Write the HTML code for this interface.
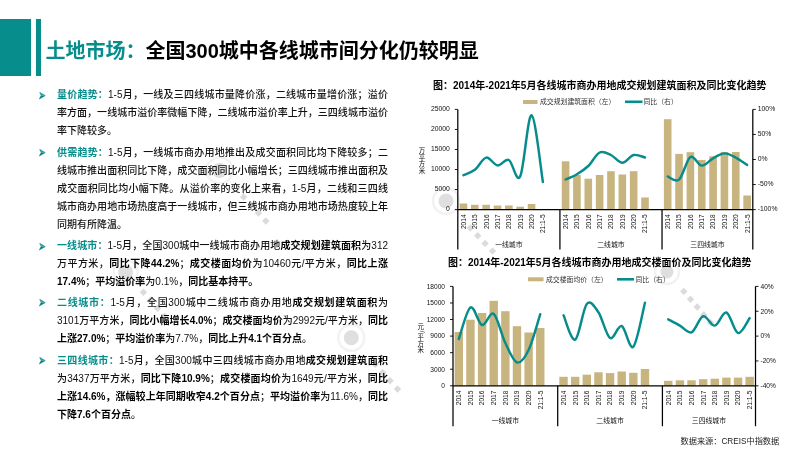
<!DOCTYPE html>
<html><head><meta charset="utf-8"><style>
html,body{margin:0;padding:0;background:#fff;}
body{width:800px;height:450px;position:relative;overflow:hidden;font-family:"Liberation Sans","Noto Sans CJK SC",sans-serif;}
.blk{position:absolute;left:0;top:19px;width:31px;height:57px;background:#078d8c;}
.bar{position:absolute;left:36px;top:19px;width:5px;height:57px;background:#078d8c;}
.title{position:absolute;left:45.5px;top:37px;font-size:20px;line-height:28px;font-weight:bold;color:#000;white-space:nowrap;font-family:"Liberation Sans","Noto Sans CJK SC",sans-serif;}
.title .t{color:#078d8c;}
.p{position:absolute;left:57px;width:331px;font-size:10px;line-height:18px;color:#111;font-weight:500;}
.ln{white-space:nowrap;text-align:justify;text-align-last:justify;height:18px;}
.ln.last{text-align-last:left;}
.hd{color:#078d8c;font-weight:bold;}
b{font-weight:bold;color:#000;}
.bul{position:absolute;left:-18.3px;top:5.3px;}
.ch{position:absolute;left:0;top:0;}
.wm{position:absolute;left:0;top:0;}
.ch text{font-family:"Liberation Sans","Noto Sans CJK SC",sans-serif;}
.ct{font-size:10px;font-weight:bold;fill:#000;}
.lg{font-size:6.85px;fill:#333;}
.ax{font-size:6.6px;fill:#111;}
.ay1{font-size:6.8px;fill:#111;}
.ay2{font-size:6.6px;fill:#111;}
.gn{font-size:6.85px;fill:#111;}
.yt{font-size:6.5px;fill:#111;}
.src{font-size:8.2px;fill:#222;}
</style></head><body>
<svg class="wm" width="800" height="450" viewBox="0 0 800 450"><circle cx="219.6" cy="170.4" r="13" fill="none" stroke="#ececec" stroke-width="2.5" opacity="0.7"/><circle cx="219.6" cy="170.4" r="7.5" fill="#d2d2d2" opacity="0.7"/><rect x="241" y="194.4" width="5.2" height="5.2" fill="#cfcfcf" opacity="0.75" transform="rotate(45 243.6 197)"/><rect x="248.4" y="202.4" width="5.2" height="5.2" fill="#cfcfcf" opacity="0.75" transform="rotate(45 251 205)"/><rect x="255.8" y="210.4" width="5.2" height="5.2" fill="#cfcfcf" opacity="0.75" transform="rotate(45 258.4 213)"/><rect x="263.2" y="218.4" width="5.2" height="5.2" fill="#cfcfcf" opacity="0.75" transform="rotate(45 265.8 221)"/><circle cx="446" cy="201" r="13" fill="none" stroke="#ececec" stroke-width="2.5" opacity="0.7"/><circle cx="446" cy="201" r="7.5" fill="#d2d2d2" opacity="0.7"/><rect x="467.7" y="225.4" width="5.2" height="5.2" fill="#cfcfcf" opacity="0.75" transform="rotate(45 470.3 228)"/><rect x="475.1" y="233.1" width="5.2" height="5.2" fill="#cfcfcf" opacity="0.75" transform="rotate(45 477.7 235.7)"/><rect x="482.5" y="240.8" width="5.2" height="5.2" fill="#cfcfcf" opacity="0.75" transform="rotate(45 485.1 243.4)"/><rect x="489.9" y="248.5" width="5.2" height="5.2" fill="#cfcfcf" opacity="0.75" transform="rotate(45 492.5 251.1)"/><circle cx="351.3" cy="337.8" r="13" fill="none" stroke="#ececec" stroke-width="2.5" opacity="0.7"/><circle cx="351.3" cy="337.8" r="7.5" fill="#d2d2d2" opacity="0.7"/><rect x="372.7" y="361.8" width="5.2" height="5.2" fill="#cfcfcf" opacity="0.75" transform="rotate(45 375.3 364.4)"/><rect x="380.1" y="370" width="5.2" height="5.2" fill="#cfcfcf" opacity="0.75" transform="rotate(45 382.7 372.6)"/><rect x="387.5" y="378.2" width="5.2" height="5.2" fill="#cfcfcf" opacity="0.75" transform="rotate(45 390.1 380.8)"/><rect x="394.9" y="386.4" width="5.2" height="5.2" fill="#cfcfcf" opacity="0.75" transform="rotate(45 397.5 389)"/><circle cx="125.6" cy="272.1" r="12" fill="none" stroke="#ececec" stroke-width="2.5" opacity="0.7"/><circle cx="125.6" cy="272.1" r="7.5" fill="#d2d2d2" opacity="0.7"/><rect x="140.8" y="289.7" width="5.2" height="5.2" fill="#cfcfcf" opacity="0.75" transform="rotate(45 143.4 292.3)"/><rect x="147.8" y="297.7" width="5.2" height="5.2" fill="#cfcfcf" opacity="0.75" transform="rotate(45 150.4 300.3)"/><rect x="154.8" y="305.7" width="5.2" height="5.2" fill="#cfcfcf" opacity="0.75" transform="rotate(45 157.4 308.3)"/><rect x="161.8" y="313.7" width="5.2" height="5.2" fill="#cfcfcf" opacity="0.75" transform="rotate(45 164.4 316.3)"/><circle cx="667" cy="272" r="12" fill="none" stroke="#ececec" stroke-width="2.5" opacity="0.7"/><circle cx="667" cy="272" r="6.5" fill="#d2d2d2" opacity="0.7"/><rect x="681.2" y="288.8" width="5.2" height="5.2" fill="#cfcfcf" opacity="0.75" transform="rotate(45 683.8 291.4)"/><rect x="687.9" y="296.6" width="5.2" height="5.2" fill="#cfcfcf" opacity="0.75" transform="rotate(45 690.5 299.2)"/><rect x="694.6" y="304.4" width="5.2" height="5.2" fill="#cfcfcf" opacity="0.75" transform="rotate(45 697.2 307)"/><rect x="701.3" y="312.2" width="5.2" height="5.2" fill="#cfcfcf" opacity="0.75" transform="rotate(45 703.9 314.8)"/><rect x="708" y="320" width="5.2" height="5.2" fill="#cfcfcf" opacity="0.75" transform="rotate(45 710.6 322.6)"/></svg>
<div class="blk"></div><div class="bar"></div>
<div class="title"><span class="t">土地市场：</span>全国300城中各线城市间分化仍较明显</div>
<div class="p" style="top:86.3px"><svg class="bul" width="8" height="8" viewBox="0 0 8 8"><path d="M0.7,0.3 L6.1,3.4 L2.1,3.6 Z" fill="#2fa9a8"/><path d="M2.1,3.6 L6.1,3.4 L6.2,3.7 L0.3,7.1 Z" fill="#07807f"/><path d="M0.7,0.3 L6.1,3.4 L6.2,3.7 L0.3,7.1 L2.1,3.6 Z" fill="none" stroke="#0a8584" stroke-width="0.5"/></svg><div class="ln"><span class="hd">量价趋势：</span>1-5月，一线及三四线城市量降价涨，二线城市量增价涨；溢价</div><div class="ln">率方面，一线城市溢价率微幅下降，二线城市溢价率上升，三四线城市溢价</div><div class="ln last">率下降较多。</div></div><div class="p" style="top:143.8px"><svg class="bul" width="8" height="8" viewBox="0 0 8 8"><path d="M0.7,0.3 L6.1,3.4 L2.1,3.6 Z" fill="#2fa9a8"/><path d="M2.1,3.6 L6.1,3.4 L6.2,3.7 L0.3,7.1 Z" fill="#07807f"/><path d="M0.7,0.3 L6.1,3.4 L6.2,3.7 L0.3,7.1 L2.1,3.6 Z" fill="none" stroke="#0a8584" stroke-width="0.5"/></svg><div class="ln"><span class="hd">供需趋势：</span>1-5月，一线城市商办用地推出及成交面积同比均下降较多；二</div><div class="ln">线城市推出面积同比下降，成交面积同比小幅增长；三四线城市推出面积及</div><div class="ln">成交面积同比均小幅下降。从溢价率的变化上来看，1-5月，二线和三四线</div><div class="ln">城市商办用地市场热度高于一线城市，但三线城市商办用地市场热度较上年</div><div class="ln last">同期有所降温。</div></div><div class="p" style="top:237.3px"><svg class="bul" width="8" height="8" viewBox="0 0 8 8"><path d="M0.7,0.3 L6.1,3.4 L2.1,3.6 Z" fill="#2fa9a8"/><path d="M2.1,3.6 L6.1,3.4 L6.2,3.7 L0.3,7.1 Z" fill="#07807f"/><path d="M0.7,0.3 L6.1,3.4 L6.2,3.7 L0.3,7.1 L2.1,3.6 Z" fill="none" stroke="#0a8584" stroke-width="0.5"/></svg><div class="ln"><span class="hd">一线城市：</span>1-5月，全国300城中一线城市商办用地<b>成交规划建筑面积</b>为312</div><div class="ln">万平方米，<b>同比下降44.2%</b>；<b>成交楼面均价</b>为10460元/平方米，<b>同比上涨</b></div><div class="ln last"><b>17.4%</b>；<b>平均溢价率</b>为0.1%，<b>同比基本持平。</b></div></div><div class="p" style="top:293.8px"><svg class="bul" width="8" height="8" viewBox="0 0 8 8"><path d="M0.7,0.3 L6.1,3.4 L2.1,3.6 Z" fill="#2fa9a8"/><path d="M2.1,3.6 L6.1,3.4 L6.2,3.7 L0.3,7.1 Z" fill="#07807f"/><path d="M0.7,0.3 L6.1,3.4 L6.2,3.7 L0.3,7.1 L2.1,3.6 Z" fill="none" stroke="#0a8584" stroke-width="0.5"/></svg><div class="ln"><span class="hd">二线城市：</span>1-5月，全国300城中二线城市商办用地<b>成交规划建筑面积</b>为</div><div class="ln">3101万平方米，<b>同比小幅增长4.0%</b>；<b>成交楼面均价</b>为2992元/平方米，<b>同比</b></div><div class="ln last"><b>上涨27.0%</b>；<b>平均溢价率</b>为7.7%，<b>同比上升4.1个百分点</b>。</div></div><div class="p" style="top:351.8px"><svg class="bul" width="8" height="8" viewBox="0 0 8 8"><path d="M0.7,0.3 L6.1,3.4 L2.1,3.6 Z" fill="#2fa9a8"/><path d="M2.1,3.6 L6.1,3.4 L6.2,3.7 L0.3,7.1 Z" fill="#07807f"/><path d="M0.7,0.3 L6.1,3.4 L6.2,3.7 L0.3,7.1 L2.1,3.6 Z" fill="none" stroke="#0a8584" stroke-width="0.5"/></svg><div class="ln"><span class="hd">三四线城市：</span>1-5月，全国300城中三四线城市商办用地<b>成交规划建筑面积</b></div><div class="ln">为3437万平方米，<b>同比下降10.9%</b>；<b>成交楼面均价</b>为1649元/平方米，<b>同比</b></div><div class="ln"><b>上涨14.6%，涨幅较上年同期收窄4.2个百分点</b>；<b>平均溢价率</b>为11.6%，<b>同比</b></div><div class="ln last"><b>下降7.6个百分点</b>。</div></div>
<svg class="ch" width="800" height="450" viewBox="0 0 800 450">
<text x="433" y="89" class="ct">图：2014年-2021年5月各线城市商办用地成交规划建筑面积及同比变化趋势</text>
<rect x="523" y="100" width="14.5" height="4" fill="#c7b47f"/>
<text x="540" y="104.3" class="lg">成交规划建筑面积（左）</text>
<line x1="625" y1="101.8" x2="642.5" y2="101.8" stroke="#068c8b" stroke-width="2.6"/>
<text x="643.5" y="104.3" class="lg">同比（右）</text>
<text x="422" y="153.23" text-anchor="middle" class="yt">万</text><text x="422" y="159.78" text-anchor="middle" class="yt">平</text><text x="422" y="166.33" text-anchor="middle" class="yt">方</text><text x="422" y="172.88" text-anchor="middle" class="yt">米</text>
<rect x="459.67" y="203.5" width="7.6" height="6.1" fill="#c7b47f"/>
<rect x="471.02" y="204.8" width="7.6" height="4.8" fill="#c7b47f"/>
<rect x="482.37" y="204.8" width="7.6" height="4.8" fill="#c7b47f"/>
<rect x="493.71" y="205.5" width="7.6" height="4.1" fill="#c7b47f"/>
<rect x="505.06" y="205.5" width="7.6" height="4.1" fill="#c7b47f"/>
<rect x="516.4" y="206.7" width="7.6" height="2.9" fill="#c7b47f"/>
<rect x="527.75" y="204" width="7.6" height="5.6" fill="#c7b47f"/>
<rect x="539.1" y="209" width="7.6" height="0.6" fill="#c7b47f"/>
<rect x="561.79" y="161.3" width="7.6" height="48.3" fill="#c7b47f"/>
<rect x="573.13" y="175" width="7.6" height="34.6" fill="#c7b47f"/>
<rect x="584.48" y="178.7" width="7.6" height="30.9" fill="#c7b47f"/>
<rect x="595.83" y="175" width="7.6" height="34.6" fill="#c7b47f"/>
<rect x="607.17" y="171.2" width="7.6" height="38.4" fill="#c7b47f"/>
<rect x="618.52" y="174.5" width="7.6" height="35.1" fill="#c7b47f"/>
<rect x="629.87" y="171.2" width="7.6" height="38.4" fill="#c7b47f"/>
<rect x="641.21" y="197.5" width="7.6" height="12.1" fill="#c7b47f"/>
<rect x="663.9" y="119.2" width="7.6" height="90.4" fill="#c7b47f"/>
<rect x="675.25" y="153.9" width="7.6" height="55.7" fill="#c7b47f"/>
<rect x="686.6" y="152.2" width="7.6" height="57.4" fill="#c7b47f"/>
<rect x="697.94" y="160" width="7.6" height="49.6" fill="#c7b47f"/>
<rect x="709.29" y="156.3" width="7.6" height="53.3" fill="#c7b47f"/>
<rect x="720.63" y="152" width="7.6" height="57.6" fill="#c7b47f"/>
<rect x="731.98" y="152" width="7.6" height="57.6" fill="#c7b47f"/>
<rect x="743.33" y="195.5" width="7.6" height="14.1" fill="#c7b47f"/>
<path d="M463.47,175.2 C465.36,174.3 471.04,172.73 474.82,169.8 C478.6,166.87 482.38,158.33 486.17,157.6 C489.95,156.87 493.73,165 497.51,165.4 C501.29,165.8 505.08,158.17 508.86,160 C512.64,161.83 516.42,183.85 520.2,176.4 C523.99,168.95 527.77,114.37 531.55,115.3 C535.33,116.23 541.01,170.88 542.9,182" fill="none" stroke="#068c8b" stroke-width="2.45" stroke-linecap="round" stroke-linejoin="round"/>
<path d="M565.59,179.5 C567.48,178.62 573.15,176.45 576.93,174.2 C580.72,171.95 584.5,169.62 588.28,166 C592.06,162.38 595.84,154.33 599.63,152.5 C603.41,150.67 607.19,153.28 610.97,155 C614.76,156.72 618.54,162.8 622.32,162.8 C626.1,162.8 629.88,155.88 633.67,155 C637.45,154.12 643.12,157.08 645.01,157.5" fill="none" stroke="#068c8b" stroke-width="2.45" stroke-linecap="round" stroke-linejoin="round"/>
<path d="M667.7,176.4 C669.59,176.93 675.27,182.83 679.05,179.6 C682.83,176.37 686.61,159.33 690.4,157 C694.18,154.67 697.96,165.38 701.74,165.6 C705.52,165.82 709.31,160.33 713.09,158.3 C716.87,156.27 720.65,153.52 724.43,153.4 C728.22,153.28 732,155.68 735.78,157.6 C739.56,159.52 745.24,163.68 747.13,164.9" fill="none" stroke="#068c8b" stroke-width="2.45" stroke-linecap="round" stroke-linejoin="round"/>
<line x1="457.8" y1="109.4" x2="457.8" y2="249.5" stroke="#000" stroke-width="1.25"/>
<line x1="752.8" y1="109.4" x2="752.8" y2="249.5" stroke="#000" stroke-width="1.25"/>
<line x1="457.8" y1="209.6" x2="752.8" y2="209.6" stroke="#000" stroke-width="1.25"/>
<line x1="559.92" y1="209.6" x2="559.92" y2="249.5" stroke="#000" stroke-width="1.25"/>
<line x1="662.03" y1="209.6" x2="662.03" y2="249.5" stroke="#000" stroke-width="1.25"/>
<line x1="454.8" y1="209.6" x2="457.8" y2="209.6" stroke="#000" stroke-width="0.9"/>
<text x="449.8" y="211" text-anchor="end" class="ay1">0</text>
<line x1="454.8" y1="189.56" x2="457.8" y2="189.56" stroke="#000" stroke-width="0.9"/>
<text x="449.8" y="190.96" text-anchor="end" class="ay1">5000</text>
<line x1="454.8" y1="169.52" x2="457.8" y2="169.52" stroke="#000" stroke-width="0.9"/>
<text x="449.8" y="170.92" text-anchor="end" class="ay1">10000</text>
<line x1="454.8" y1="149.48" x2="457.8" y2="149.48" stroke="#000" stroke-width="0.9"/>
<text x="449.8" y="150.88" text-anchor="end" class="ay1">15000</text>
<line x1="454.8" y1="129.44" x2="457.8" y2="129.44" stroke="#000" stroke-width="0.9"/>
<text x="449.8" y="130.84" text-anchor="end" class="ay1">20000</text>
<line x1="454.8" y1="109.4" x2="457.8" y2="109.4" stroke="#000" stroke-width="0.9"/>
<text x="449.8" y="110.8" text-anchor="end" class="ay1">25000</text>
<line x1="752.8" y1="209.6" x2="755.8" y2="209.6" stroke="#000" stroke-width="0.9"/>
<text x="757.8" y="210.9" class="ay1">-100%</text>
<line x1="752.8" y1="184.55" x2="755.8" y2="184.55" stroke="#000" stroke-width="0.9"/>
<text x="757.8" y="185.85" class="ay1">-50%</text>
<line x1="752.8" y1="159.5" x2="755.8" y2="159.5" stroke="#000" stroke-width="0.9"/>
<text x="757.8" y="160.8" class="ay1">0%</text>
<line x1="752.8" y1="134.45" x2="755.8" y2="134.45" stroke="#000" stroke-width="0.9"/>
<text x="757.8" y="135.75" class="ay1">50%</text>
<line x1="752.8" y1="109.4" x2="755.8" y2="109.4" stroke="#000" stroke-width="0.9"/>
<text x="757.8" y="110.7" class="ay1">100%</text>
<text transform="translate(465.87,214.4) rotate(-90)" text-anchor="end" class="ax">2014</text>
<text transform="translate(477.22,214.4) rotate(-90)" text-anchor="end" class="ax">2015</text>
<text transform="translate(488.57,214.4) rotate(-90)" text-anchor="end" class="ax">2016</text>
<text transform="translate(499.91,214.4) rotate(-90)" text-anchor="end" class="ax">2017</text>
<text transform="translate(511.26,214.4) rotate(-90)" text-anchor="end" class="ax">2018</text>
<text transform="translate(522.6,214.4) rotate(-90)" text-anchor="end" class="ax">2019</text>
<text transform="translate(533.95,214.4) rotate(-90)" text-anchor="end" class="ax">2020</text>
<text transform="translate(545.3,214.4) rotate(-90)" text-anchor="end" class="ax">21:1-5</text>
<text transform="translate(567.99,214.4) rotate(-90)" text-anchor="end" class="ax">2014</text>
<text transform="translate(579.33,214.4) rotate(-90)" text-anchor="end" class="ax">2015</text>
<text transform="translate(590.68,214.4) rotate(-90)" text-anchor="end" class="ax">2016</text>
<text transform="translate(602.03,214.4) rotate(-90)" text-anchor="end" class="ax">2017</text>
<text transform="translate(613.37,214.4) rotate(-90)" text-anchor="end" class="ax">2018</text>
<text transform="translate(624.72,214.4) rotate(-90)" text-anchor="end" class="ax">2019</text>
<text transform="translate(636.07,214.4) rotate(-90)" text-anchor="end" class="ax">2020</text>
<text transform="translate(647.41,214.4) rotate(-90)" text-anchor="end" class="ax">21:1-5</text>
<text transform="translate(670.1,214.4) rotate(-90)" text-anchor="end" class="ax">2014</text>
<text transform="translate(681.45,214.4) rotate(-90)" text-anchor="end" class="ax">2015</text>
<text transform="translate(692.8,214.4) rotate(-90)" text-anchor="end" class="ax">2016</text>
<text transform="translate(704.14,214.4) rotate(-90)" text-anchor="end" class="ax">2017</text>
<text transform="translate(715.49,214.4) rotate(-90)" text-anchor="end" class="ax">2018</text>
<text transform="translate(726.83,214.4) rotate(-90)" text-anchor="end" class="ax">2019</text>
<text transform="translate(738.18,214.4) rotate(-90)" text-anchor="end" class="ax">2020</text>
<text transform="translate(749.53,214.4) rotate(-90)" text-anchor="end" class="ax">21:1-5</text>
<text x="508.86" y="246.8" text-anchor="middle" class="gn">一线城市</text>
<text x="610.97" y="246.8" text-anchor="middle" class="gn">二线城市</text>
<text x="707.42" y="246.8" text-anchor="middle" class="gn">三四线城市</text>
<text x="448" y="265.5" class="ct">图：2014年-2021年5月各线城市商办用地成交楼面价及同比变化趋势</text>
<rect x="528" y="277.3" width="15.5" height="4" fill="#c7b47f"/>
<text x="546" y="281.6" class="lg">成交楼面均价（左）</text>
<line x1="617" y1="279.3" x2="634" y2="279.3" stroke="#068c8b" stroke-width="2.6"/>
<text x="635.5" y="281.6" class="lg">同比（右）</text>
<text x="420.8" y="329.23" text-anchor="middle" class="yt">元</text><text x="420.8" y="332.75" text-anchor="middle" class="yt" transform="rotate(90 420.8 331.75)">/</text><text x="420.8" y="338.98" text-anchor="middle" class="yt">平</text><text x="420.8" y="345.53" text-anchor="middle" class="yt">方</text><text x="420.8" y="352.08" text-anchor="middle" class="yt">米</text>
<rect x="454.62" y="332" width="8.4" height="53.8" fill="#c7b47f"/>
<rect x="466.25" y="319.7" width="8.4" height="66.1" fill="#c7b47f"/>
<rect x="477.89" y="313" width="8.4" height="72.8" fill="#c7b47f"/>
<rect x="489.52" y="300.8" width="8.4" height="85" fill="#c7b47f"/>
<rect x="501.16" y="311.2" width="8.4" height="74.6" fill="#c7b47f"/>
<rect x="512.79" y="326.2" width="8.4" height="59.6" fill="#c7b47f"/>
<rect x="524.42" y="332.5" width="8.4" height="53.3" fill="#c7b47f"/>
<rect x="536.06" y="328" width="8.4" height="57.8" fill="#c7b47f"/>
<rect x="559.33" y="376.8" width="8.4" height="9" fill="#c7b47f"/>
<rect x="570.96" y="376.8" width="8.4" height="9" fill="#c7b47f"/>
<rect x="582.6" y="374.7" width="8.4" height="11.1" fill="#c7b47f"/>
<rect x="594.23" y="372.3" width="8.4" height="13.5" fill="#c7b47f"/>
<rect x="605.87" y="373.1" width="8.4" height="12.7" fill="#c7b47f"/>
<rect x="617.5" y="371.5" width="8.4" height="14.3" fill="#c7b47f"/>
<rect x="629.14" y="372.8" width="8.4" height="13" fill="#c7b47f"/>
<rect x="640.77" y="369" width="8.4" height="16.8" fill="#c7b47f"/>
<rect x="664.04" y="380.8" width="8.4" height="5" fill="#c7b47f"/>
<rect x="675.68" y="380.3" width="8.4" height="5.5" fill="#c7b47f"/>
<rect x="687.31" y="380.3" width="8.4" height="5.5" fill="#c7b47f"/>
<rect x="698.94" y="379.2" width="8.4" height="6.6" fill="#c7b47f"/>
<rect x="710.58" y="378.7" width="8.4" height="7.1" fill="#c7b47f"/>
<rect x="722.21" y="377.6" width="8.4" height="8.2" fill="#c7b47f"/>
<rect x="733.85" y="377.6" width="8.4" height="8.2" fill="#c7b47f"/>
<rect x="745.48" y="376.8" width="8.4" height="9" fill="#c7b47f"/>
<path d="M458.82,339 C460.76,333.75 466.57,309.83 470.45,307.5 C474.33,305.17 478.21,323.92 482.09,325 C485.96,326.08 489.84,311 493.72,314 C497.6,317 501.48,334.92 505.36,343 C509.23,351.08 513.11,361.33 516.99,362.5 C520.87,363.67 524.75,358.05 528.62,350 C532.5,341.95 538.32,320.17 540.26,314.2" fill="none" stroke="#068c8b" stroke-width="2.45" stroke-linecap="round" stroke-linejoin="round"/>
<path d="M563.53,315.3 C565.47,319.37 571.29,341.58 575.16,339.7 C579.04,337.82 582.92,308.57 586.8,304 C590.68,299.43 594.55,306.63 598.43,312.3 C602.31,317.97 606.19,335.72 610.07,338 C613.95,340.28 617.82,324.55 621.7,326 C625.58,327.45 629.46,350.58 633.34,346.7 C637.21,342.82 643.03,310.03 644.97,302.7" fill="none" stroke="#068c8b" stroke-width="2.45" stroke-linecap="round" stroke-linejoin="round"/>
<path d="M668.24,319.4 C670.18,320.43 676,323.45 679.88,325.6 C683.75,327.75 687.63,333.85 691.51,332.3 C695.39,330.75 699.27,317.42 703.14,316.3 C707.02,315.18 710.9,326.23 714.78,325.6 C718.66,324.97 722.54,311.25 726.41,312.5 C730.29,313.75 734.17,332.17 738.05,333.1 C741.93,334.03 747.74,320.6 749.68,318.1" fill="none" stroke="#068c8b" stroke-width="2.45" stroke-linecap="round" stroke-linejoin="round"/>
<line x1="453" y1="286.4" x2="453" y2="426.2" stroke="#000" stroke-width="1.25"/>
<line x1="755.5" y1="286.4" x2="755.5" y2="426.2" stroke="#000" stroke-width="1.25"/>
<line x1="453" y1="385.8" x2="755.5" y2="385.8" stroke="#000" stroke-width="1.25"/>
<line x1="557.71" y1="385.8" x2="557.71" y2="426.2" stroke="#000" stroke-width="1.25"/>
<line x1="662.42" y1="385.8" x2="662.42" y2="426.2" stroke="#000" stroke-width="1.25"/>
<line x1="450" y1="385.8" x2="453" y2="385.8" stroke="#000" stroke-width="0.9"/>
<text x="445" y="388.1" text-anchor="end" class="ay2">0</text>
<line x1="450" y1="369.23" x2="453" y2="369.23" stroke="#000" stroke-width="0.9"/>
<text x="445" y="371.53" text-anchor="end" class="ay2">3000</text>
<line x1="450" y1="352.67" x2="453" y2="352.67" stroke="#000" stroke-width="0.9"/>
<text x="445" y="354.97" text-anchor="end" class="ay2">6000</text>
<line x1="450" y1="336.1" x2="453" y2="336.1" stroke="#000" stroke-width="0.9"/>
<text x="445" y="338.4" text-anchor="end" class="ay2">9000</text>
<line x1="450" y1="319.53" x2="453" y2="319.53" stroke="#000" stroke-width="0.9"/>
<text x="445" y="321.83" text-anchor="end" class="ay2">12000</text>
<line x1="450" y1="302.97" x2="453" y2="302.97" stroke="#000" stroke-width="0.9"/>
<text x="445" y="305.27" text-anchor="end" class="ay2">15000</text>
<line x1="450" y1="286.4" x2="453" y2="286.4" stroke="#000" stroke-width="0.9"/>
<text x="445" y="288.7" text-anchor="end" class="ay2">18000</text>
<line x1="755.5" y1="385.8" x2="758.5" y2="385.8" stroke="#000" stroke-width="0.9"/>
<text x="760.5" y="388.1" class="ay2">-40%</text>
<line x1="755.5" y1="360.95" x2="758.5" y2="360.95" stroke="#000" stroke-width="0.9"/>
<text x="760.5" y="363.25" class="ay2">-20%</text>
<line x1="755.5" y1="336.1" x2="758.5" y2="336.1" stroke="#000" stroke-width="0.9"/>
<text x="760.5" y="338.4" class="ay2">0%</text>
<line x1="755.5" y1="311.25" x2="758.5" y2="311.25" stroke="#000" stroke-width="0.9"/>
<text x="760.5" y="313.55" class="ay2">20%</text>
<line x1="755.5" y1="286.4" x2="758.5" y2="286.4" stroke="#000" stroke-width="0.9"/>
<text x="760.5" y="288.7" class="ay2">40%</text>
<text transform="translate(461.22,390.6) rotate(-90)" text-anchor="end" class="ax">2014</text>
<text transform="translate(472.85,390.6) rotate(-90)" text-anchor="end" class="ax">2015</text>
<text transform="translate(484.49,390.6) rotate(-90)" text-anchor="end" class="ax">2016</text>
<text transform="translate(496.12,390.6) rotate(-90)" text-anchor="end" class="ax">2017</text>
<text transform="translate(507.76,390.6) rotate(-90)" text-anchor="end" class="ax">2018</text>
<text transform="translate(519.39,390.6) rotate(-90)" text-anchor="end" class="ax">2019</text>
<text transform="translate(531.02,390.6) rotate(-90)" text-anchor="end" class="ax">2020</text>
<text transform="translate(542.66,390.6) rotate(-90)" text-anchor="end" class="ax">21:1-5</text>
<text transform="translate(565.93,390.6) rotate(-90)" text-anchor="end" class="ax">2014</text>
<text transform="translate(577.56,390.6) rotate(-90)" text-anchor="end" class="ax">2015</text>
<text transform="translate(589.2,390.6) rotate(-90)" text-anchor="end" class="ax">2016</text>
<text transform="translate(600.83,390.6) rotate(-90)" text-anchor="end" class="ax">2017</text>
<text transform="translate(612.47,390.6) rotate(-90)" text-anchor="end" class="ax">2018</text>
<text transform="translate(624.1,390.6) rotate(-90)" text-anchor="end" class="ax">2019</text>
<text transform="translate(635.74,390.6) rotate(-90)" text-anchor="end" class="ax">2020</text>
<text transform="translate(647.37,390.6) rotate(-90)" text-anchor="end" class="ax">21:1-5</text>
<text transform="translate(670.64,390.6) rotate(-90)" text-anchor="end" class="ax">2014</text>
<text transform="translate(682.27,390.6) rotate(-90)" text-anchor="end" class="ax">2015</text>
<text transform="translate(693.91,390.6) rotate(-90)" text-anchor="end" class="ax">2016</text>
<text transform="translate(705.54,390.6) rotate(-90)" text-anchor="end" class="ax">2017</text>
<text transform="translate(717.18,390.6) rotate(-90)" text-anchor="end" class="ax">2018</text>
<text transform="translate(728.81,390.6) rotate(-90)" text-anchor="end" class="ax">2019</text>
<text transform="translate(740.45,390.6) rotate(-90)" text-anchor="end" class="ax">2020</text>
<text transform="translate(752.08,390.6) rotate(-90)" text-anchor="end" class="ax">21:1-5</text>
<text x="505.36" y="423" text-anchor="middle" class="gn">一线城市</text>
<text x="610.07" y="423" text-anchor="middle" class="gn">二线城市</text>
<text x="708.96" y="423" text-anchor="middle" class="gn">三四线城市</text>
<text x="680.5" y="444" class="src">数据来源：CREIS中指数据</text>
</svg>
</body></html>
